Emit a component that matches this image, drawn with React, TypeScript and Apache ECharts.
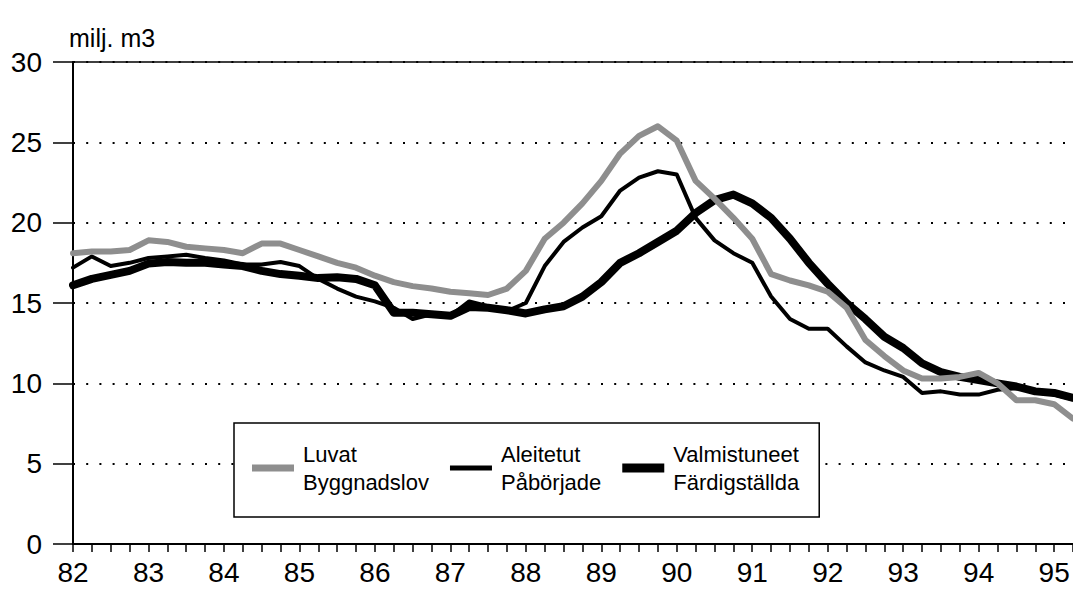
import React, { useEffect, useRef } from "react";
import * as echarts from "echarts";

const years = ["82", "83", "84", "85", "86", "87", "88", "89", "90", "91", "92", "93", "94", "95"];
const quarterNames = ["1", "2", "3", "4"];
const quarterCount = 54; // 82:1 .. 95:2

const seriesNames = ["Luvat Byggnadslov", "Aleitetut Påbörjade", "Valmistuneet Färdigställda"];

const luvat = [
  18.1, 18.2, 18.2, 18.3, 18.9, 18.8, 18.5, 18.4, 18.3, 18.1, 18.7, 18.7,
  18.3, 17.9, 17.5, 17.2, 16.7, 16.3, 16.05, 15.9, 15.7, 15.6, 15.5, 15.9,
  17.0, 19.0, 20.0, 21.2, 22.6, 24.3, 25.4, 26.0, 25.1, 22.6, 21.5, 20.3,
  19.0, 16.8, 16.4, 16.1, 15.7, 14.7, 12.7, 11.7, 10.8, 10.3, 10.3, 10.4,
  10.65, 10.0, 8.95, 8.95, 8.7, 7.8,
];

const aleitetut = [
  17.2, 17.9, 17.3, 17.5, 17.8, 17.9, 18.0, 17.8, 17.65, 17.4, 17.4, 17.55,
  17.3, 16.5, 15.9, 15.4, 15.1, 14.7, 14.0, 14.3, 14.2, 15.1, 14.8, 14.5,
  15.0, 17.3, 18.8, 19.7, 20.4, 22.0, 22.8, 23.2, 23.0, 20.3, 18.9, 18.1,
  17.5, 15.4, 14.0, 13.4, 13.4, 12.3, 11.3, 10.8, 10.4, 9.4, 9.5, 9.3,
  9.3, 9.6, 9.7, 9.5, 9.3, 9.0,
];

const valmistuneet = [
  16.1, 16.5, 16.75, 17.0, 17.45, 17.55, 17.5, 17.5, 17.4, 17.3, 17.0, 16.8,
  16.7, 16.55, 16.6, 16.5, 16.1, 14.4, 14.4, 14.3, 14.2, 14.75, 14.7, 14.55,
  14.35, 14.6, 14.8, 15.4, 16.3, 17.5, 18.1, 18.8, 19.5, 20.6, 21.4, 21.75,
  21.2, 20.3, 19.0, 17.5, 16.2, 15.0, 14.0, 12.9, 12.2, 11.25, 10.7, 10.4,
  10.2, 10.0, 9.8, 9.5, 9.4, 9.1,
];

const categories = years
  .flatMap((y) => quarterNames.map((q) => `${y}:${q}`))
  .slice(0, quarterCount);

const FONT = '"Liberation Sans", Arial, Helvetica, sans-serif';
const GRAY = "#8e8e8e";

export default function App() {
  const ref = useRef<HTMLDivElement>(null);

  useEffect(() => {
    if (!ref.current) return;
    const chart = echarts.init(ref.current, undefined, { renderer: "svg" });

    const option: any = {
      animation: false,
      backgroundColor: "#fff",
      textStyle: { fontFamily: FONT, color: "#000" },
      title: {
        text: "milj. m3",
        left: 69,
        top: 25,
        padding: 0,
        textStyle: { fontFamily: FONT, fontSize: 25, fontWeight: "normal", color: "#000" },
      },
      grid: { left: 73, right: 0, top: 62, bottom: 49, containLabel: false },
      legend: {
        left: 234,
        top: 423,
        orient: "horizontal",
        padding: [17, 20, 21, 18],
        itemGap: 21,
        itemWidth: 42,
        itemHeight: 18,
        backgroundColor: "#fff",
        borderColor: "#000",
        borderWidth: 1.5,
        borderRadius: 0,
        selectedMode: false,
        symbolKeepAspect: true,
        formatter: (name: string) => name.replace(" ", "\n"),
        textStyle: { fontFamily: FONT, fontSize: 22, lineHeight: 28, color: "#000", padding: [0, 0, 0, 4] },
        data: [
          { name: seriesNames[0], icon: "path://M0,0H42V7H0Z", itemStyle: { color: GRAY } },
          { name: seriesNames[1], icon: "path://M0,0H42V5H0Z", itemStyle: { color: "#000" } },
          { name: seriesNames[2], icon: "path://M0,0H42V9H0Z", itemStyle: { color: "#000" } },
        ],
      },
      xAxis: [
        {
          type: "category",
          data: categories,
          boundaryGap: false,
          axisLine: { show: true, lineStyle: { color: "#000", width: 2 } },
          axisTick: { show: true, interval: 0, length: 8, inside: false, lineStyle: { color: "#000", width: 1.5 } },
          axisLabel: {
            interval: 3,
            margin: 14,
            fontSize: 28,
            color: "#000",
            fontFamily: FONT,
            formatter: (v: string) => v.split(":")[0],
          },
          splitLine: { show: false },
        },
        {
          type: "category",
          data: categories,
          boundaryGap: false,
          position: "top",
          axisLine: { show: true, lineStyle: { color: "#000", width: 1.5 } },
          axisTick: { show: false },
          axisLabel: { show: false },
          splitLine: { show: false },
        },
      ],
      yAxis: {
        type: "value",
        min: 0,
        max: 30,
        interval: 5,
        axisLine: { show: true, lineStyle: { color: "#000", width: 2 } },
        axisTick: { show: true, length: 20, inside: false, lineStyle: { color: "#000", width: 1.5 } },
        axisLabel: { margin: 31, fontSize: 28, color: "#000", fontFamily: FONT },
        splitLine: { show: true, lineStyle: { color: "#000", width: 2, type: [2, 11.2] } },
      },
      series: [
        {
          name: seriesNames[2],
          type: "line",
          data: valmistuneet,
          symbol: "none",
          showSymbol: false,
          z: 2,
          color: "#000",
          lineStyle: { color: "#000", width: 8, join: "round", cap: "round" },
        },
        {
          name: seriesNames[1],
          type: "line",
          data: aleitetut,
          symbol: "none",
          showSymbol: false,
          z: 3,
          color: "#000",
          lineStyle: { color: "#000", width: 4, join: "round", cap: "round" },
        },
        {
          name: seriesNames[0],
          type: "line",
          data: luvat,
          symbol: "none",
          showSymbol: false,
          z: 4,
          color: GRAY,
          lineStyle: { color: GRAY, width: 6, join: "round", cap: "round" },
        },
      ],
    };

    chart.setOption(option);
    return () => chart.dispose();
  }, []);

  return (
    <div
      ref={ref}
      style={{ position: "fixed", left: 0, top: 0, width: 1073, height: 593, background: "#fff" }}
    />
  );
}
